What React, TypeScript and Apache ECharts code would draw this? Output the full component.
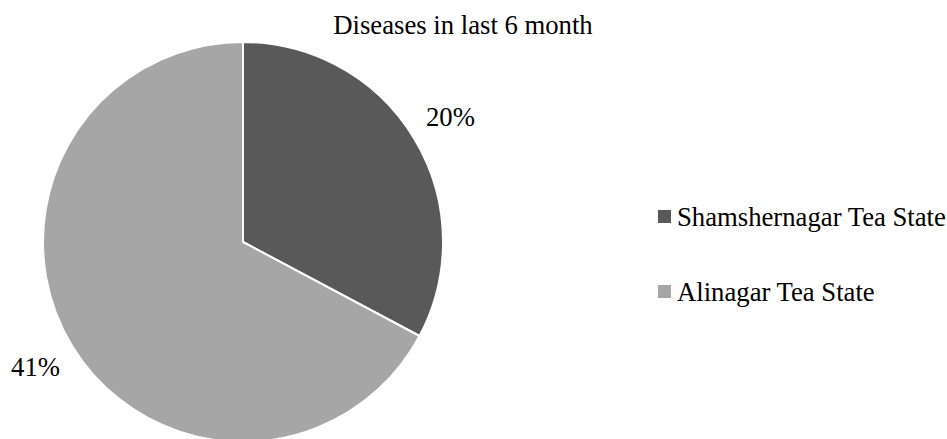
import React, { useEffect, useRef } from "react";
import * as echarts from "echarts";

const titleText = "Diseases in last 6 month";
const categories = ["Shamshernagar Tea State", "Alinagar Tea State"];
const values = [20, 41];
const colors = ["#595959", "#a6a6a6"];

export default function App() {
  const ref = useRef<HTMLDivElement>(null);
  useEffect(() => {
    document.body.style.margin = "0";
    const chart = echarts.init(ref.current!, undefined, { renderer: "svg" });
    const font = "'Liberation Serif', 'Times New Roman', serif";
    const fs = 26.7;
    const data = categories.map((name, i) => ({
      name,
      value: values[i],
      itemStyle: { color: colors[i] },
    }));
    chart.setOption({
      animation: false,
      textStyle: { fontFamily: font },
      title: {
        text: titleText,
        left: 458,
        top: 6,
        textAlign: "center",
        textStyle: { fontFamily: font, fontSize: fs, fontWeight: "normal", color: "#000" },
      },
      legend: {
        orient: "vertical",
        left: 651,
        top: 198,
        itemWidth: 15,
        itemHeight: 15,
        itemGap: 48,
        icon: "rect",
        data: categories.map((name, i) => ({ name, itemStyle: { color: colors[i] } })),
        textStyle: { fontFamily: font, fontSize: fs, color: "#000", lineHeight: 26 },
      },
      series: [
        {
          type: "pie",
          center: [243, 242],
          radius: 200,
          startAngle: 90,
          clockwise: true,
          data,
          itemStyle: { borderColor: "#fff", borderWidth: 2 },
          label: { show: false },
          labelLine: { show: false },
          emphasis: { disabled: true },
        },
        {
          type: "pie",
          center: [243, 242],
          radius: [230, 248],
          startAngle: 90,
          clockwise: true,
          silent: true,
          legendHoverLink: false,
          data: categories.map((name, i) => ({
            name,
            value: values[i],
            itemStyle: { color: "rgba(0,0,0,0)" },
          })),
          label: {
            show: true,
            position: "inside",
            formatter: "{c}%",
            fontFamily: font,
            fontSize: fs,
            color: "#000",
          },
          labelLine: { show: false },
          emphasis: { disabled: true },
        },
      ],
    });
    return () => chart.dispose();
  }, []);
  return <div ref={ref} style={{ width: 947, height: 439 }} />;
}
